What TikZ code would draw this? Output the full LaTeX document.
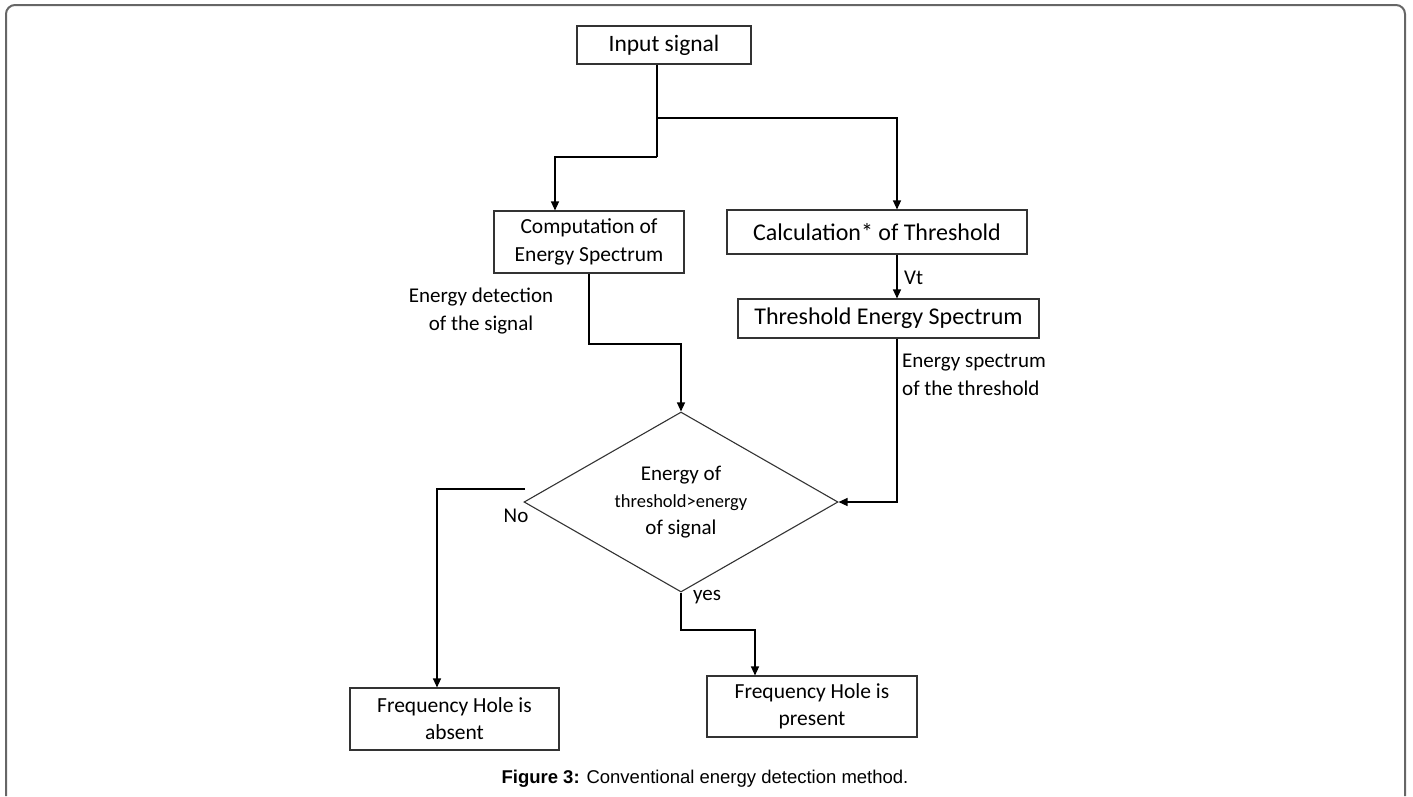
\documentclass[tikz,border=0pt]{standalone}
\usepackage{fontspec}
\setmainfont{Carlito}
\newfontfamily\capfont{Liberation Sans}
\usetikzlibrary{shapes.geometric,arrows.meta}
\tikzset{
  box/.style={draw=black!80, line width=1.1pt, rectangle, inner sep=0pt, align=center},
  conn/.style={line width=1.2pt, draw=black},
  arr/.style={conn, -{Triangle[length=9pt,width=8pt]}},
  lbl/.style={inner sep=0pt, align=center, font=\fontsize{21}{28}\selectfont},
}
\begin{document}
\begin{tikzpicture}[x=1pt,y=-1pt]
\useasboundingbox (0,0) rectangle (1413,796);
\draw[black!60, line width=2pt, rounded corners=9pt] (6,796) -- (6,5) -- (1405,5) -- (1405,796);

\node[box, minimum width=174pt, minimum height=38pt, font=\fontsize{23.5}{28}\selectfont] (in) at (664,45) {Input signal};
\node[box, minimum width=190pt, minimum height=62pt, font=\fontsize{21.5}{28}\selectfont] (comp) at (589,242) {Computation of\\Energy Spectrum};
\node[box, minimum width=300pt, minimum height=44pt, font=\fontsize{24}{28}\selectfont] (calc) at (877,232) {Calculation* of Threshold};
\node[box, minimum width=301pt, minimum height=39pt, font=\fontsize{24}{28}\selectfont] (thr) at (888.5,318.5) {Threshold Energy Spectrum};
\node[draw=black!80, line width=1.1pt, diamond, minimum width=314pt, minimum height=180pt, inner sep=0pt] (dia) at (681,502) {};
\node[lbl, font=\fontsize{21}{27}\selectfont] (diat) at (681,502) {Energy of\\{\fontsize{18.5}{27}\selectfont threshold>energy}\\of signal};
\node[box, minimum width=209pt, minimum height=62pt, font=\fontsize{21.5}{27}\selectfont] (abs) at (454.5,719) {Frequency Hole is\\absent};
\node[box, minimum width=210pt, minimum height=61pt, font=\fontsize{21.5}{27}\selectfont] (pres) at (812,706.5) {Frequency Hole is\\present};

\node[lbl] (edl) at (481,311) {Energy detection\\of the signal};
\node[lbl, align=left, anchor=west] (esl) at (902,375) {Energy spectrum\\of the threshold};
\node[lbl] (no) at (516,516) {No};
\node[lbl] (yes) at (707,597) {yes};
\node[lbl, anchor=west] (vt) at (904,278) {Vt};

\node[inner sep=0pt, font=\capfont\fontsize{18.5}{22}\selectfont] (cap) at (705,779) {\textbf{Figure 3:} Conventional energy detection method.};

\coordinate (j1) at (657,118);
\coordinate (j2) at (657,157);
\coordinate (cA) at (555,157);
\coordinate (cB) at (897,118);
\coordinate (cC) at (589,344);
\coordinate (nA) at (525,489);
\coordinate (nB) at (437,489);
\coordinate (yA) at (681,630);
\coordinate (yB) at (755,630);

\draw[conn] (in.south -| j1) -- (j2);
\draw[arr] (j2) -- (cA) -- (cA |- comp.north);
\draw[arr] (j1) -- (cB) -- (cB |- calc.north);
\draw[arr] (cB |- calc.south) -- (cB |- thr.north);
\draw[arr] (cB |- thr.south) |- (dia.east);
\draw[arr] (comp.south) -- (cC) -| (dia.north);
\draw[arr] (nA) -- (nB) -- (nB |- abs.north);
\draw[arr] (dia.south) -- (yA) -- (yB) -- (yB |- pres.north);
\end{tikzpicture}
\end{document}
